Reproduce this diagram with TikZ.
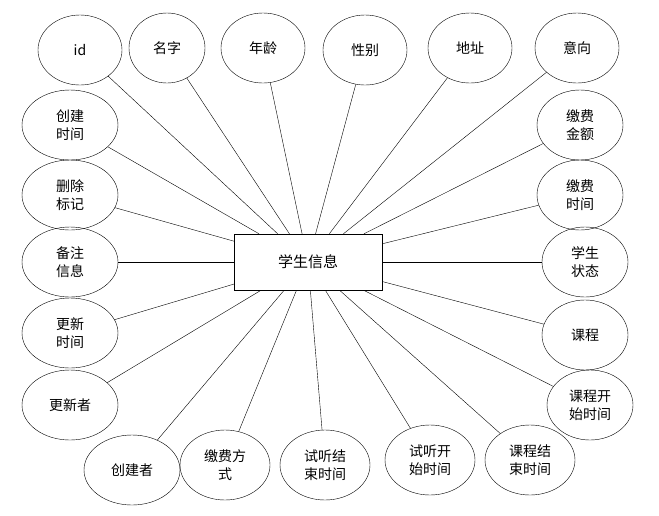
\documentclass[tikz,border=0pt]{standalone}
\usepackage{fontspec}
\setmainfont{Noto Sans CJK SC}
\usetikzlibrary{shapes.geometric}
\tikzset{
  attr/.style={draw,ellipse,inner sep=0pt,minimum width=84pt,minimum height=70pt,
    align=center,font=\fontsize{14}{18}\selectfont},
  entity/.style={draw,rectangle,minimum width=148pt,minimum height=56pt,
    font=\fontsize{15}{18}\selectfont}
}
\begin{document}
\begin{tikzpicture}[x=1pt,y=-1pt]
    \useasboundingbox (0,0) rectangle (659,515);
    \node[entity] (stu) at (308,262) {学生信息};

    % top row
    \node[attr] (id) at (80,50) {id};
    \node[attr,minimum width=76pt] (name) at (167,48) {名字};
    \node[attr] (age) at (263,48) {年龄};
    \node[attr] (sex) at (365,50) {性别};
    \node[attr] (addr) at (470,48) {地址};
    \node[attr] (intent) at (577,48) {意向};

    % left column
    \node[attr,minimum width=96pt] (ctime) at (70,125) {创建\\时间};
    \node[attr,minimum width=96pt] (del) at (70,195) {删除\\标记};
    \node[attr,minimum width=96pt] (note) at (70,262) {备注\\信息};
    \node[attr,minimum width=96pt] (utime) at (70,333) {更新\\时间};
    \node[attr,minimum width=96pt] (uby) at (70,405) {更新者};

    % right column
    \node[attr,minimum width=86pt] (fee) at (580,125) {缴费\\金额};
    \node[attr,minimum width=86pt] (ftime) at (580,195) {缴费\\时间};
    \node[attr,minimum width=86pt] (state) at (585,262) {学生\\状态};
    \node[attr,minimum width=86pt] (course) at (585,335) {课程};
    \node[attr,minimum width=86pt] (cstart) at (590,405) {课程开\\始时间};

    % bottom row
    \node[attr,minimum width=96pt] (cby) at (132,470) {创建者};
    \node[attr,minimum width=90pt] (pay) at (225,465) {缴费方\\式};
    \node[attr,minimum width=90pt] (tend) at (325,465) {试听结\\束时间};
    \node[attr,minimum width=90pt] (tstart) at (430,460) {试听开\\始时间};
    \node[attr,minimum width=90pt] (cend) at (530,460) {课程结\\束时间};

    \foreach \a in {id,name,age,sex,addr,intent,ctime,del,note,utime,uby,
                    fee,ftime,state,course,cstart,cby,pay,tend,tstart,cend} {
      \draw (\a) -- (stu);
    }
\end{tikzpicture}
\end{document}
